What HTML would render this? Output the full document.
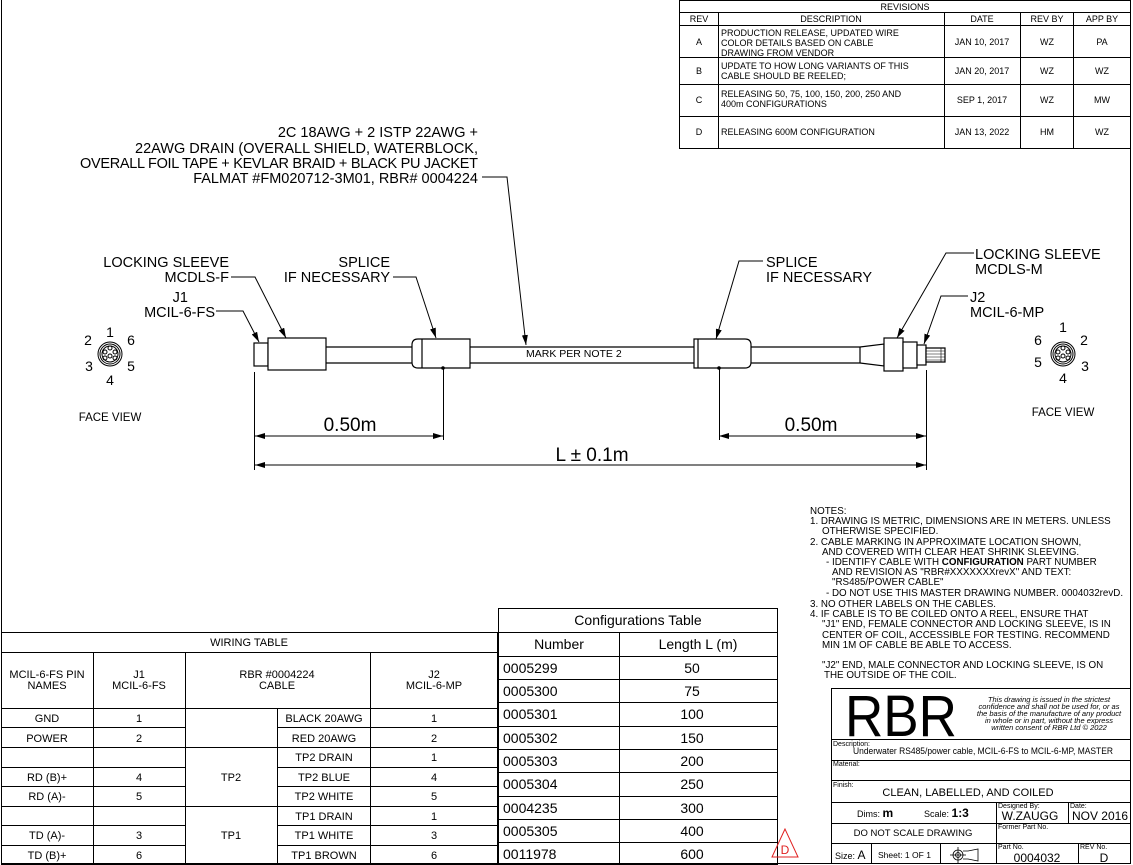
<!DOCTYPE html>
<html><head><meta charset="utf-8"><style>
html,body{margin:0;padding:0;background:#fff;}
svg{display:block;font-family:"Liberation Sans",sans-serif;}
</style></head><body>
<svg width="1133" height="865" viewBox="0 0 1133 865" xmlns="http://www.w3.org/2000/svg">
<defs><marker id="ar" markerWidth="10" markerHeight="6" refX="10" refY="3" orient="auto-start-reverse" markerUnits="userSpaceOnUse"><path d="M0,0 L10,3 L0,6z" fill="#000"/></marker></defs>
<g fill="none" stroke="#000" stroke-width="1">
<path d="M1.5,0 V863.5 H1130.5 V0"/>
<rect x="679.5" y="0.5" width="451" height="148"/>
<path d="M679.5,12.5H1130.5M679.5,25.5H1130.5M679.5,57.5H1130.5M679.5,84.5H1130.5M679.5,116.5H1130.5"/>
<path d="M718.5,12.5V148.5M944.5,12.5V148.5M1020.5,12.5V148.5M1073.5,12.5V148.5"/>
<rect x="1.5" y="632.5" width="496" height="232"/>
<path d="M1.5,652.5H497.5M1.5,708.5H497.5M1.5,727.5H185M277,727.5H497.5M1.5,747.5H497.5M1.5,767.5H185M277,767.5H497.5M1.5,786.5H185M277,786.5H497.5M1.5,806.5H497.5M1.5,825.5H185M277,825.5H497.5M1.5,845.5H185M277,845.5H497.5"/>
<path d="M93.5,652.5V864.5M185.5,652.5V864.5M277.5,708.5V864.5M370.5,652.5V864.5"/>
<rect x="498.5" y="608.5" width="279" height="256"/>
<path d="M498.5,632.5H777.5M498.5,656.5H777.5M498.5,679.5H777.5M498.5,702.5H777.5M498.5,726.5H777.5M498.5,749.5H777.5M498.5,772.5H777.5M498.5,796.5H777.5M498.5,819.5H777.5M498.5,842.5H777.5"/>
<path d="M619.5,632.5V864.5"/>
<path d="M831.5,864V688.5H1130.5M831.5,739.5H1130.5M831.5,760.5H1130.5M831.5,780.5H1130.5M831.5,802.5H1130.5M831.5,823.5H1130.5M831.5,843.5H1130.5"/>
<path d="M996.5,802.5V864M1068.5,802.5V823.5M1078.5,843.5V864M871.5,843.5V864M940.5,843.5V864"/>
</g>
<g fill="#fff" stroke="#000" stroke-width="1.2">
<rect x="254" y="343" width="14" height="23"/>
<rect x="268" y="338" width="58" height="32"/>
<path d="M326,347H420M326,363H420" fill="none"/>
<path d="M470,347H698M470,363H698" fill="none"/>
<path d="M418,339H470V368H418Q412,368 412,362V345Q412,339 418,339Z"/>
<path d="M422,339V368" fill="none"/>
<path d="M694,339H745Q751,339 751,345V362Q751,368 745,368H694Z"/>
<path d="M698,339V368" fill="none"/>
<path d="M751,347H860L884,344V366L860,363H751" fill="none"/>
<path d="M860,347V363" fill="none"/>
<rect x="884" y="338" width="19" height="33"/>
<rect x="903" y="342" width="14" height="26"/>
<rect x="917" y="345" width="9" height="20"/>
<path d="M926,348H945V362H926Z"/>
<path d="M926,351H945M926,354H945M926,357H945M926,360H945M941,348V362" fill="none" stroke-width="0.6"/>
</g>
<text x="526" y="357" font-size="10.5">MARK PER NOTE 2</text>
<circle cx="443" cy="368" r="1.8"/><circle cx="719" cy="368" r="1.8"/>
<g stroke="#000" stroke-width="1" fill="none">
<path d="M254.5,372V470M443.5,368V440M719.5,368V440M926.5,370V470"/>
<path d="M255,436H443" marker-start="url(#ar)" marker-end="url(#ar)"/>
<path d="M719,436H926" marker-start="url(#ar)" marker-end="url(#ar)"/>
<path d="M255,465H926" marker-start="url(#ar)" marker-end="url(#ar)"/>
</g>
<g font-size="19">
<text x="350" y="431" text-anchor="middle">0.50m</text>
<text x="811" y="431" text-anchor="middle">0.50m</text>
<text x="592" y="461" text-anchor="middle">L ± 0.1m</text>
</g>
<g stroke="#000" stroke-width="1" fill="none">
<path d="M482,177H507L526,345" marker-end="url(#ar)"/>
<path d="M231,277H255L286,338" marker-end="url(#ar)"/>
<path d="M216,311H243L259,342" marker-end="url(#ar)"/>
<path d="M393,277H416L436,338" marker-end="url(#ar)"/>
<path d="M763,261H739L716,339" marker-end="url(#ar)"/>
<path d="M974,253H946L897,338" marker-end="url(#ar)"/>
<path d="M968,296H941L924,344" marker-end="url(#ar)"/>
</g>
<g font-size="14.5" text-anchor="end">
<text x="478" y="137">2C 18AWG + 2 ISTP 22AWG +</text>
<text x="478" y="153">22AWG DRAIN (OVERALL SHIELD, WATERBLOCK,</text>
<text x="478" y="168" textLength="398">OVERALL FOIL TAPE + KEVLAR BRAID + BLACK PU JACKET</text>
<text x="478" y="183">FALMAT #FM020712-3M01, RBR# 0004224</text>
<text x="229" y="267">LOCKING SLEEVE</text>
<text x="229" y="282">MCDLS-F</text>
<text x="188" y="302">J1</text>
<text x="215" y="317">MCIL-6-FS</text>
<text x="390" y="267">SPLICE</text>
<text x="390" y="282">IF NECESSARY</text>
</g>
<g font-size="14.5">
<text x="766" y="267">SPLICE</text>
<text x="766" y="282">IF NECESSARY</text>
<text x="975" y="259">LOCKING SLEEVE</text>
<text x="975" y="274">MCDLS-M</text>
<text x="970" y="302">J2</text>
<text x="970" y="317">MCIL-6-MP</text>
</g>
<g fill="none" stroke="#000" stroke-width="1">
<circle cx="110" cy="354" r="12"/><circle cx="110" cy="354" r="10"/><circle cx="110" cy="354" r="8"/>
<circle cx="110" cy="348" r="2"/><circle cx="105" cy="352" r="2"/><circle cx="115" cy="352" r="2"/><circle cx="105" cy="358" r="2"/><circle cx="115" cy="358" r="2"/><circle cx="110" cy="356" r="2"/>
<circle cx="1063" cy="354" r="12"/><circle cx="1063" cy="354" r="10"/><circle cx="1063" cy="354" r="8"/>
<circle cx="1063" cy="348" r="2"/><circle cx="1058" cy="352" r="2"/><circle cx="1068" cy="352" r="2"/><circle cx="1058" cy="358" r="2"/><circle cx="1068" cy="358" r="2"/><circle cx="1063" cy="356" r="2"/>
</g>
<g font-size="14" text-anchor="middle">
<text x="110" y="337">1</text><text x="88" y="345">2</text><text x="131" y="345">6</text>
<text x="89" y="371">3</text><text x="131" y="371">5</text><text x="110" y="385">4</text>
<text x="1063" y="332">1</text><text x="1038" y="345">6</text><text x="1084" y="345">2</text>
<text x="1038" y="367">5</text><text x="1085" y="371">3</text><text x="1063" y="383">4</text>
</g>
<text x="110" y="421" font-size="11.5" text-anchor="middle">FACE VIEW</text>
<text x="1063" y="416" font-size="11.5" text-anchor="middle">FACE VIEW</text>
<g font-size="9" text-anchor="middle">
<text x="905" y="10">REVISIONS</text>
<text x="699" y="22">REV</text><text x="831" y="22">DESCRIPTION</text><text x="982" y="22">DATE</text><text x="1047" y="22">REV BY</text><text x="1102" y="22">APP BY</text>
<text x="699" y="45">A</text><text x="982" y="45">JAN 10, 2017</text><text x="1047" y="45">WZ</text><text x="1102" y="45">PA</text>
<text x="699" y="74">B</text><text x="982" y="74">JAN 20, 2017</text><text x="1047" y="74">WZ</text><text x="1102" y="74">WZ</text>
<text x="699" y="103">C</text><text x="982" y="103">SEP 1, 2017</text><text x="1047" y="103">WZ</text><text x="1102" y="103">MW</text>
<text x="699" y="135">D</text><text x="982" y="135">JAN 13, 2022</text><text x="1047" y="135">HM</text><text x="1102" y="135">WZ</text>
</g>
<g font-size="9">
<text x="721" y="36">PRODUCTION RELEASE, UPDATED WIRE</text>
<text x="721" y="46">COLOR DETAILS BASED ON CABLE</text>
<text x="721" y="56">DRAWING FROM VENDOR</text>
<text x="721" y="69">UPDATE TO HOW LONG VARIANTS OF THIS</text>
<text x="721" y="79">CABLE SHOULD BE REELED;</text>
<text x="721" y="97">RELEASING 50, 75, 100, 150, 200, 250 AND</text>
<text x="721" y="107">400m CONFIGURATIONS</text>
<text x="721" y="135">RELEASING 600M CONFIGURATION</text>
</g>
<g font-size="9.8">
<text x="810" y="514">NOTES:</text>
<text x="810" y="524">1. DRAWING IS METRIC, DIMENSIONS ARE IN METERS. UNLESS</text>
<text x="822" y="534">OTHERWISE SPECIFIED.</text>
<text x="810" y="545">2. CABLE MARKING IN APPROXIMATE LOCATION SHOWN,</text>
<text x="822" y="555">AND COVERED WITH CLEAR HEAT SHRINK SLEEVING.</text>
<text x="826" y="565">- IDENTIFY CABLE WITH <tspan font-weight="bold">CONFIGURATION</tspan> PART NUMBER</text>
<text x="832" y="575">AND REVISION AS "RBR#XXXXXXXrevX" AND TEXT:</text>
<text x="832" y="585">"RS485/POWER CABLE"</text>
<text x="826" y="596">- DO NOT USE THIS MASTER DRAWING NUMBER. 0004032revD.</text>
<text x="810" y="607">3. NO OTHER LABELS ON THE CABLES.</text>
<text x="810" y="617">4. IF CABLE IS TO BE COILED ONTO A REEL, ENSURE THAT</text>
<text x="822" y="627">"J1"  END, FEMALE CONNECTOR AND LOCKING SLEEVE, IS IN</text>
<text x="822" y="638">CENTER OF COIL, ACCESSIBLE FOR TESTING.  RECOMMEND</text>
<text x="822" y="648">MIN 1M OF CABLE BE ABLE TO ACCESS.</text>
<text x="822" y="668">"J2" END, MALE CONNECTOR AND LOCKING SLEEVE, IS ON</text>
<text x="824" y="678">THE OUTSIDE OF THE COIL.</text>
</g>
<g font-size="11" text-anchor="middle">
<text x="249" y="646">WIRING TABLE</text>
<text x="47" y="678">MCIL-6-FS PIN</text><text x="47" y="689">NAMES</text>
<text x="139" y="678">J1</text><text x="139" y="689">MCIL-6-FS</text>
<text x="277" y="678">RBR #0004224</text><text x="277" y="689">CABLE</text>
<text x="434" y="678">J2</text><text x="434" y="689">MCIL-6-MP</text>
<text x="47" y="722">GND</text><text x="139" y="722">1</text><text x="324" y="722">BLACK 20AWG</text><text x="434" y="722">1</text>
<text x="47" y="742">POWER</text><text x="139" y="742">2</text><text x="324" y="742">RED 20AWG</text><text x="434" y="742">2</text>
<text x="324" y="761">TP2 DRAIN</text><text x="434" y="761">1</text>
<text x="47" y="781">RD (B)+</text><text x="139" y="781">4</text><text x="231" y="781">TP2</text><text x="324" y="781">TP2 BLUE</text><text x="434" y="781">4</text>
<text x="47" y="800">RD (A)-</text><text x="139" y="800">5</text><text x="324" y="800">TP2 WHITE</text><text x="434" y="800">5</text>
<text x="324" y="820">TP1 DRAIN</text><text x="434" y="820">1</text>
<text x="47" y="839">TD (A)-</text><text x="139" y="839">3</text><text x="231" y="839">TP1</text><text x="324" y="839">TP1 WHITE</text><text x="434" y="839">3</text>
<text x="47" y="859">TD (B)+</text><text x="139" y="859">6</text><text x="324" y="859">TP1 BROWN</text><text x="434" y="859">6</text>
</g>
<g font-size="14" text-anchor="middle">
<text x="638" y="625">Configurations Table</text>
<text x="559" y="649">Number</text><text x="698" y="649">Length L (m)</text>
</g>
<g font-size="14">
<text x="503" y="673">0005299</text><text x="503" y="696">0005300</text><text x="503" y="719">0005301</text><text x="503" y="743">0005302</text><text x="503" y="766">0005303</text><text x="503" y="789">0005304</text><text x="503" y="813">0004235</text><text x="503" y="836">0005305</text><text x="503" y="859">0011978</text>
</g>
<g font-size="14" text-anchor="middle">
<text x="692" y="673">50</text><text x="692" y="696">75</text><text x="692" y="719">100</text><text x="692" y="743">150</text><text x="692" y="766">200</text><text x="692" y="789">250</text><text x="692" y="813">300</text><text x="692" y="836">400</text><text x="692" y="859">600</text>
</g>
<path d="M785,829L772,857H798Z" fill="none" stroke="#e02020" stroke-width="1"/>
<text x="785" y="854" font-size="12" fill="#e02020" text-anchor="middle">D</text>
<text x="845" y="736" font-size="58" textLength="112" lengthAdjust="spacingAndGlyphs">RBR</text>
<g font-size="7.5" font-style="italic" text-anchor="middle">
<text x="1049" y="702">This drawing is issued in the strictest</text>
<text x="1049" y="709">confidence and shall not be used for, or as</text>
<text x="1049" y="716">the basis of the manufacture of any product</text>
<text x="1049" y="723">in whole or in part, without the express</text>
<text x="1049" y="730">written consent of RBR Ltd © 2022</text>
</g>
<g font-size="7">
<text x="833" y="746">Description:</text>
<text x="833" y="766">Material:</text>
<text x="833" y="787">Finish:</text>
<text x="998" y="808">Designed By:</text>
<text x="1070" y="808">Date:</text>
<text x="998" y="829">Former Part No.</text>
<text x="998" y="849">Part No.</text>
<text x="1080" y="849">REV No.</text>
</g>
<text x="853" y="754" font-size="9" textLength="260" lengthAdjust="spacingAndGlyphs">Underwater RS485/power cable, MCIL-6-FS to MCIL-6-MP, MASTER</text>
<text x="968" y="796" font-size="11" text-anchor="middle">CLEAN, LABELLED, AND COILED</text>
<text x="857" y="817" font-size="9">Dims: <tspan font-size="12" font-weight="bold">m</tspan></text>
<text x="924" y="817" font-size="9">Scale: <tspan font-size="12" font-weight="bold">1:3</tspan></text>
<text x="1030" y="820" font-size="12" text-anchor="middle">W.ZAUGG</text>
<text x="1100" y="820" font-size="12" text-anchor="middle">NOV 2016</text>
<text x="913" y="836" font-size="9.5" text-anchor="middle">DO NOT SCALE DRAWING</text>
<text x="835" y="859" font-size="9">Size: <tspan font-size="12">A</tspan></text>
<text x="878" y="858" font-size="8.5">Sheet: 1 OF 1</text>
<g fill="none" stroke="#000" stroke-width="0.8">
<circle cx="958" cy="855" r="5"/><circle cx="958" cy="855" r="2.5"/><path d="M950,855H966M958,847V863M963,851H968L978,849V861L968,859H963"/>
</g>
<text x="1037" y="862" font-size="12" text-anchor="middle">0004032</text>
<text x="1104" y="862" font-size="12" text-anchor="middle">D</text>
</svg>
</body></html>
